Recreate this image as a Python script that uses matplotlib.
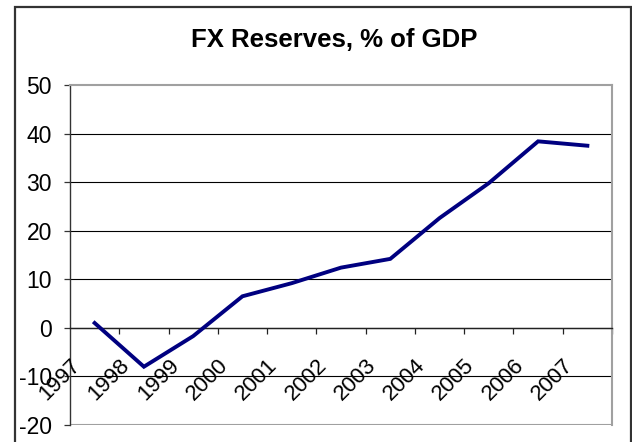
import numpy as np
import matplotlib
matplotlib.use("Agg")
import matplotlib.pyplot as plt
from matplotlib.transforms import offset_copy
from matplotlib.patches import Rectangle

plt.rcParams['font.family'] = ['Liberation Sans', 'DejaVu Sans']

years = ['1997', '1998', '1999', '2000', '2001', '2002',
         '2003', '2004', '2005', '2006', '2007']
reserves = [1.0, -8.0, -1.7, 6.5, 9.2, 12.4, 14.2, 22.6, 29.8, 38.4, 37.5]
yticks = [-20, -10, 0, 10, 20, 30, 40, 50]

W, H = 632, 442
fig = plt.figure(figsize=(W / 100, H / 100), dpi=100)

# outer chart border
fig.patches.append(Rectangle((14.5 / W, -0.05), 616 / W, 1.05 - 6.5 / H,
                             transform=fig.transFigure, fill=False,
                             edgecolor='#333333', linewidth=1.6))

ax = fig.add_axes([70 / W, (H - 425) / H, 542 / W, 340 / H])
x = np.arange(len(years))
ax.plot(x, reserves, color='#000080', lw=2.8, solid_joinstyle='miter', zorder=3)

ax.set_xlim(-0.5, len(years) - 0.5)
ax.set_ylim(-20, 50)
ax.set_yticks(yticks)
ax.set_yticklabels([str(v) for v in yticks])
ax.tick_params(axis='y', direction='out', length=4, width=0.9,
               color='#333333', labelsize=16.5, pad=9)

# grid
for v in yticks[1:-1]:
    ax.axhline(v, color='black', lw=0.8, zorder=1)

# plot area border
for s in ['top', 'right']:
    ax.spines[s].set_color('#a0a0a0')
    ax.spines[s].set_linewidth(1.5)
ax.axhline(-20, color='#a0a0a0', lw=1.5, zorder=2)
ax.spines['left'].set_color('#333333')
ax.spines['left'].set_linewidth(1.0)

# category axis crosses at zero
ax.spines['bottom'].set_position(('data', 0))
ax.spines['bottom'].set_color('#222222')
ax.spines['bottom'].set_linewidth(1.0)
ax.set_xticks(x + 0.5)
ax.set_xticklabels([])
ax.tick_params(axis='x', direction='out', length=4, width=0.9, color='#222222')

lab_tr = offset_copy(ax.transData, fig=fig, x=-10, y=-27, units='dots')
for i, yr in enumerate(years):
    ax.text(i, 0, yr, transform=lab_tr, rotation=45, ha='right', va='top',
            fontsize=16)

fig.text(334.5 / W, 1 - 40 / H, 'FX Reserves, % of GDP', ha='center',
         va='center', fontsize=18.5, fontweight='bold')

fig.savefig('out.png', dpi=100)
